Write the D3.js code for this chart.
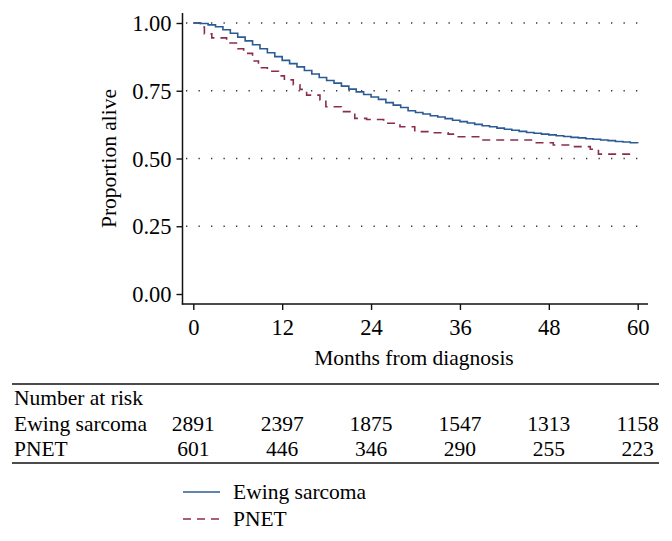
<!DOCTYPE html>
<html>
<head>
<meta charset="utf-8">
<script src="https://cdn.jsdelivr.net/npm/d3@7"></script>
<style>
  html, body { margin: 0; padding: 0; background: #fff; }
  svg { display: block; }
  text { font-family: "Liberation Serif", "Times New Roman", serif; fill: #000; }
</style>
</head>
<body>
<svg id="chart" width="672" height="541"></svg>
<script>
// ---- data ----
const monthTicks = [0, 12, 24, 36, 48, 60];
const yTicks = [0, 0.25, 0.5, 0.75, 1];
const yGrid = [0.25, 0.5, 0.75, 1];

const ewingTime = [0,1,2,3,4,5,6,7,8,9,10,11,12,13,14,15,16,17,18,19,20,21,22,23,24,25,26,27,28,29,30,
  31,32,33,34,35,36,37,38,39,40,41,42,43,44,45,46,47,48,49,50,51,52,53,54,55,56,57,58,59,60];
const ewingSurv = [1.000,0.998,0.993,0.986,0.975,0.962,0.948,0.934,0.920,0.905,0.890,0.876,0.862,0.850,0.838,
  0.825,0.812,0.799,0.788,0.778,0.767,0.756,0.746,0.736,0.727,0.718,0.706,0.697,0.688,0.676,0.670,
  0.664,0.658,0.653,0.647,0.641,0.636,0.631,0.626,0.621,0.617,0.612,0.608,0.604,0.600,0.596,0.593,
  0.590,0.587,0.584,0.581,0.578,0.576,0.573,0.571,0.568,0.566,0.563,0.561,0.558,0.556];

const pnetTime = [0,0.9,1.5,2.5,4.5,6.0,6.8,8.0,8.8,10.0,11.5,12.3,13.5,14.4,15.3,17.1,17.9,20.0,21.8,23.4,
  25.7,27.9,29.9,32.4,34.4,35.5,38.7,45.9,48.6,51.3,53.6,54.7,59.4];
const pnetSurv = [1.000,0.985,0.960,0.945,0.926,0.905,0.888,0.860,0.835,0.822,0.805,0.790,0.772,0.755,0.734,
  0.716,0.691,0.673,0.648,0.644,0.630,0.617,0.599,0.595,0.590,0.580,0.568,0.558,0.550,0.544,0.534,0.516,0.515];

const seriesNames = ["Ewing sarcoma", "PNET"];
const riskTitle = "Number at risk";
const riskEwing = [2891, 2397, 1875, 1547, 1313, 1158];
const riskPnet = [601, 446, 346, 290, 255, 223];

// ---- drawing ----
const svg = d3.select("#chart");
const colors = { ewing: "#2b5b94", pnet: "#8b2d4c" };
const FS = 21.5;
const TFS = 22.5;

const x = d3.scaleLinear().domain([0, 60]).range([193.3, 637.7]);
const y = d3.scaleLinear().domain([0, 1]).range([294, 23]);

// gridlines (dotted)
svg.append("g").selectAll("line").data(yGrid).join("line")
  .attr("x1", 186).attr("x2", 648)
  .attr("y1", d => y(d)).attr("y2", d => y(d))
  .attr("stroke", "#333").attr("stroke-width", 1.3)
  .attr("stroke-dasharray", "1.3 11.2");

// y axis
const yAxis = d3.axisLeft(y).tickValues(yTicks).tickFormat(d3.format(".2f"))
  .tickSize(6).tickPadding(5);
const gy = svg.append("g").attr("transform", "translate(182.5,0)").call(yAxis);
gy.select(".domain").remove();
gy.append("line").attr("x1", 0).attr("x2", 0).attr("y1", 13).attr("y2", 304.5)
  .attr("stroke", "#111").attr("stroke-width", 1.5);
gy.selectAll(".tick line").attr("stroke", "#111").attr("stroke-width", 1.4);
gy.selectAll(".tick text").attr("font-family", "Liberation Serif, serif")
  .attr("font-size", TFS).attr("fill", "#000").attr("dy", "0.34em");

// x axis
const xAxis = d3.axisBottom(x).tickValues(monthTicks).tickSize(6).tickPadding(10);
const gx = svg.append("g").attr("transform", "translate(0,304)").call(xAxis);
gx.select(".domain").remove();
gx.append("line").attr("x1", 181.8).attr("x2", 648).attr("y1", 0).attr("y2", 0)
  .attr("stroke", "#111").attr("stroke-width", 1.5);
gx.selectAll(".tick line").attr("stroke", "#111").attr("stroke-width", 1.4);
gx.selectAll(".tick text").attr("font-family", "Liberation Serif, serif")
  .attr("font-size", TFS).attr("fill", "#000").attr("dy", null).attr("y", 31);

// axis titles
svg.append("text").attr("x", 414).attr("y", 365).attr("text-anchor", "middle")
  .attr("font-size", FS).text("Months from diagnosis");
svg.append("text").attr("transform", "translate(116,158.5) rotate(-90)")
  .attr("text-anchor", "middle").attr("font-size", FS).text("Proportion alive");

// curves
const step = d3.line().x(d => x(d[0])).y(d => y(d[1])).curve(d3.curveStepAfter);
const ewingPts = ewingTime.map((t, i) => [t, ewingSurv[i]]);
const pnetPts = pnetTime.map((t, i) => [t, pnetSurv[i]]);

svg.append("path").attr("d", step(pnetPts)).attr("fill", "none")
  .attr("stroke", colors.pnet).attr("stroke-width", 1.6).attr("stroke-dasharray", "8 6");
svg.append("path").attr("d", step(ewingPts)).attr("fill", "none")
  .attr("stroke", colors.ewing).attr("stroke-width", 1.6);

// number at risk table
svg.append("line").attr("x1", 12).attr("x2", 659).attr("y1", 384).attr("y2", 384)
  .attr("stroke", "#111").attr("stroke-width", 1.5);
svg.append("line").attr("x1", 12).attr("x2", 659).attr("y1", 463).attr("y2", 463)
  .attr("stroke", "#111").attr("stroke-width", 1.5);

const rowY = [405, 431, 456];
svg.append("text").attr("x", 14).attr("y", rowY[0]).attr("font-size", FS).text(riskTitle);
svg.append("text").attr("x", 14).attr("y", rowY[1]).attr("font-size", FS).text(seriesNames[0]);
svg.append("text").attr("x", 14).attr("y", rowY[2]).attr("font-size", FS).text(seriesNames[1]);

svg.append("g").selectAll("text").data(riskEwing).join("text")
  .attr("x", (d, i) => x(monthTicks[i])).attr("y", rowY[1])
  .attr("text-anchor", "middle").attr("font-size", FS).text(d => d);
svg.append("g").selectAll("text").data(riskPnet).join("text")
  .attr("x", (d, i) => x(monthTicks[i])).attr("y", rowY[2])
  .attr("text-anchor", "middle").attr("font-size", FS).text(d => d);

// legend
const legY = [492, 519];
const legColors = [colors.ewing, colors.pnet];
const legDash = [null, "8 6"];
seriesNames.forEach((name, i) => {
  svg.append("line").attr("x1", 183).attr("x2", 220)
    .attr("y1", legY[i]).attr("y2", legY[i])
    .attr("stroke", legColors[i]).attr("stroke-width", 1.6)
    .attr("stroke-dasharray", legDash[i]);
  svg.append("text").attr("x", 233).attr("y", legY[i] + 7)
    .attr("font-size", FS).text(name);
});
</script>
</body>
</html>
